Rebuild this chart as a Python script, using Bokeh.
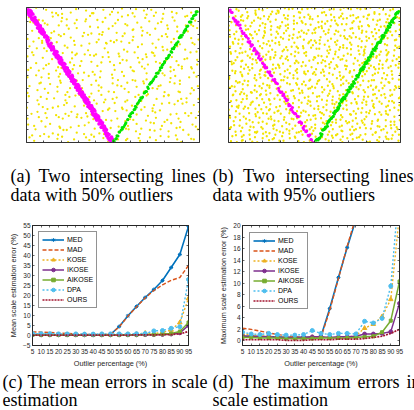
from bokeh.plotting import figure
from bokeh.models import Range1d, LinearAxis, FixedTicker, ColumnDataSource
from bokeh.layouts import column, row
from bokeh.embed import file_html
from bokeh.resources import INLINE
from bokeh.core.properties import value

# ---------------- data: error curves (c) and (d) ----------------
PCT = [5, 10, 15, 20, 25, 30, 35, 40, 45, 50, 55, 60, 65, 70, 75, 80, 85, 90, 95]
METHODS = ["MED", "MAD", "KOSE", "IKOSE", "AIKOSE", "DPA", "OURS"]

MEAN_MED = [0.6, 0.5, 0.5, 0.4, 0.4, 0.3, 0.3, 0.3, 0.4, 0.5, 4.5, 9.8, 14.5, 19.0, 23.0, 27.5, 34.0, 40.5, 54.5]
MEAN_MAD = [1.8, 1.7, 1.5, 1.2, 1.0, 0.8, 0.6, 0.5, 0.5, 0.5, 4.3, 9.6, 14.3, 18.8, 22.5, 25.3, 27.6, 29.0, 35.0]
MEAN_KOSE = [0.5, 0.5, 0.5, 0.4, 0.4, 0.4, 0.4, 0.4, 0.4, 0.4, 0.4, 0.5, 0.6, 1.2, 1.0, 1.5, 2.8, 6.5, 18.5]
MEAN_IKOSE = [0.3, 0.3, 0.3, 0.3, 0.3, 0.3, 0.3, 0.3, 0.3, 0.3, 0.3, 0.3, 0.3, 0.4, 0.4, 0.5, 0.7, 1.3, 5.0]
MEAN_AIKOSE = [0.4, 0.4, 0.4, 0.4, 0.4, 0.4, 0.4, 0.4, 0.4, 0.4, 0.4, 0.4, 0.4, 0.5, 0.5, 0.7, 1.0, 2.0, 6.5]
MEAN_DPA = [1.0, 0.9, 0.9, 0.8, 0.8, 0.8, 0.7, 0.7, 0.8, 0.8, 0.8, 0.8, 0.9, 1.0, 2.3, 2.5, 3.6, 4.4, 28.0]
MEAN_OURS = [0.2, 0.2, 0.2, 0.2, 0.2, 0.2, 0.2, 0.2, 0.2, 0.2, 0.2, 0.2, 0.3, 0.3, 0.3, 0.4, 0.5, 0.8, 2.0]

MAX_MED = [0.8, 0.8, 0.8, 0.7, 0.7, 0.6, 0.6, 0.6, 0.6, 0.8, 5.6, 11.0, 16.2, 21.0, 26.0, 31.0, 37.0, 44.0, 58.0]
MAX_MAD = [2.2, 2.0, 1.7, 1.4, 1.1, 0.9, 0.7, 0.6, 0.6, 0.6, 5.3, 10.8, 16.4, 21.5, 25.0, 27.0, 29.0, 31.0, 36.0]
MAX_KOSE = [1.2, 1.0, 0.9, 0.8, 0.7, 0.7, 0.6, 0.6, 0.6, 0.6, 0.6, 0.6, 0.6, 0.9, 2.2, 2.9, 4.2, 7.2, 22.0]
MAX_IKOSE = [0.8, 0.8, 0.7, 0.7, 0.6, 0.6, 0.6, 0.6, 0.7, 0.7, 0.6, 0.7, 0.7, 0.8, 1.2, 1.2, 1.3, 1.6, 6.5]
MAX_AIKOSE = [0.6, 0.6, 0.5, 0.5, 0.5, 0.4, 0.4, 0.4, 0.4, 0.5, 0.5, 0.5, 0.5, 0.6, 0.7, 0.8, 1.5, 3.5, 10.3]
MAX_DPA = [1.5, 1.2, 1.1, 1.3, 1.1, 1.0, 1.0, 1.1, 1.8, 1.3, 1.1, 1.3, 1.3, 1.2, 3.4, 3.1, 3.9, 9.5, 27.0]
MAX_OURS = [0.2, 0.2, 0.2, 0.2, 0.2, 0.1, 0.1, 0.1, 0.2, 0.2, 0.2, 0.3, 0.3, 0.3, 0.4, 0.6, 0.8, 1.3, 2.0]

MEAN_TICKS = [-5, 0, 5, 10, 15, 20, 25, 30, 35, 40, 45, 50, 55]
MAX_TICKS = [0, 2, 4, 6, 8, 10, 12, 14, 16, 18, 20]
SCAT_TICKS = [10, 20, 30, 40, 50, 60, 70, 80, 90]

# ---------------- data: two intersecting lines (a) and (b) ----------------
# outliers: one point per grid cell, digit pair = position inside the cell
OUT_A_GRID = (26, 20)
OUT_A = (
    "47120938 65382014 97431856 20749315 86025743 19386420 75148039 62937158"
    "08546271 93620485 17394602 58271936 40583179 26148357 93016284 75392061"
    "61839024 57206918 34785102 96431587 21068745 39572618 04937265 81540392"
    "29467013 85103946 72658319 40827561 93715046 28364907 51289634 07615283"
    "73950186 42917365 08236491 57694028 31846572 90153748 26470915 38621704"
    "15824739 60471283 94568012 37210954 68397124 05841367 79236580 14903672"
    "86203514 79348065 21697430 85046217 43971856 62185093 30758421 97642318"
    "52679083 14592706 80731649 26358701 97514238 41069572 68923150 03487965"
    "38014657 27865931 46019872 63942015 80273496 15790284 42651739 89136047"
    "94367120 58140379 63285914 07619832 25490761 84327165 17094583 56208439"
    "20591846 36974201 75430628 91865073 14628359 69051742 83517026 40792381"
    "67142390 83025617 19876354 42093786 58731024 23465897 06182947 71359640"
    "41786205 97251384 30648917 65104729 82396051 47910638 59823716 13067482"
    "85930472 14603859 62719043 38527196 07451238 90286473 24695807 76148329"
    "03268951 70489236 85136720 49762813 61937402 35814096 78340251 92576184"
    "59713628 26840917 43952086 17305649 96824130 62479581 01568372 38914765"
    "76425083 51397264 08614395 84231976 30579814 17046382 95281047 64730259"
)
OUT_B_GRID = (38, 27)
OUT_B = (
    "52809314 76213058 94760823 13587942 60934175 28461309 75102846 39657021 84219736 07538264 91346580"
    "19674208 35820947 61093582 47216095 83740621 95378014 26854930 71092465 38517209 64803157 20976431"
    "86431750 02967318 47582106 93128574 16093847 50742698 81365024 43978150 69204783 15827946 73590412"
    "30158927 64795103 28314769 05679231 72846510 39125487 64308951 87461302 25973618 90341527 48629075"
    "75926043 18430672 93057481 61842350 47315896 02684731 19573048 56820974 73146805 32698410 86051739"
    "41083675 87256194 05621937 38974026 94168203 76530912 53019786 20645139 08371562 67584023 19307264"
    "69547281 23618509 74893026 50326718 28501947 13829065 97462318 04183759 45920687 81235974 52748016"
    "07312846 96041735 31276854 89630152 65739480 47210396 20854173 78316942 12689405 56470319 94163528"
    "84965102 42783961 68510293 27015436 03486291 81953674 46731590 39528016 90742138 23096781 60832457"
    "23670819 70154328 12947630 76841095 59230874 65097231 09162483 82675403 37419856 98152604 41576093"
    "96128437 58362014 80436179 43598261 17624053 32781409 78520364 14093827 61830572 04763198 85290341"
    "50739264 14987630 27651048 95023784 86941327 09463158 34197806 67254913 28056341 79314052 16843709"
    "38041597 83526047 64289315 10764829 42058316 71529036 85013947 50968274 93715208 46270839 02597618"
    "71853026 29604185 95130762 68491203 30785942 26840173 12679458 97431026 05829467 61548203 79360451"
    "15260948 67149302 40837519 84326017 75160398 53902647 69438205 23165790 48092316 87613520 34729186"
    "62497813 90835271 18562043 37059684 08917235 94175360 40526871 76910348 81653092 25047138 58102947"
    "07834561 45391806 73920587 52618430 64293107 17068425 92784613 38257091 59014268 64391725 21856034"
    "89156230 21768459 56048371 90472516 41385269 82634910 07351829 65812403 14936750 03782619 97425308"
    "46302718 74053126 82917604 26830945 97502843 35816927 58193046 09467352 72581049 41926830 63091472"
    "24719085 36817492 09356128 73184650 13649528 68021573 21649738 87534160 36248971 92850364 05738219"
    "93581642 80426315 47183906 15905237 52871406 06397142 84027561 42396875 60197423 18635907 76214580"
    "58064379 12975680 61827453 49371862 28016795 93458016 36780152 71043298 05829136 57092413 42897065"
    "01726954 65308217 93546081 84052736 76539120 41762389 10937654 59618302 48361750 26473918 89103526"
    "75493806 48162739 20391574 36728915 09284653 28905147 67249310 13870645 93024587 80316254 14562873"
)
# inliers: digit pair = (position along the line inside its slot, vertical residual)
MAG_A_LINE = (0.0, 100.0, 50.0, 0.0)
MAG_A_RES = 2.4
MAG_A = (
    "47192063 85216094 30785142 69413870 21596384 74028619 53871206 98345017"
    "16729483 60254917 83016725 49532806 27184395 05963718 64820539 31476082"
    "92537164 18605293 75341806 40928571 63174028 89250346 12869057 57403129"
    "36981245 04713658 81246930 25069781 70392415 48517602 19638274 63204958"
    "93758106 27461389 50832674 84105923 36297014 71580362 05419837 62843591"
    "28036147 91574208 43692015 76180432 14930768 59327841 80465129 32798501"
    "67214083 05831976 49102657 96543820 21378945 74069218 38650712 61987034"
    "15432096 87205143 42769358 09316827"
)
GRN_A_LINE = (50.0, 0.0, 99.0, 98.0)
GRN_A_RES = 1.0
GRN_A = (
    "58139260 27406815 93872041 61520394 04697128 75318462 39024756 86251903"
    "12784635 40693178 97360524 25847019 63018247 81462593 06975381 54329670"
    "29813456 71046289 48590132 92657104 17238965 60475328 35901842"
)
MAG_B_LINE = (0.0, 99.0, 49.4, 0.0)
MAG_B_RES = 1.6
MAG_B = (
    "62041857 39518260 85723149 14690372 70832594 46159038 93276105 28504716"
    "51387920 07426893 84915632 36071284 69240517 12853906 57698340 40317682"
    "98162475 23589014 75406139 01834526 86273910 34950761 60189243 17625389"
    "92748053"
)
GRN_B_LINE = (50.8, 0.0, 99.2, 97.8)
GRN_B_RES = 1.5
GRN_B = (
    "19384652 73620148 40815937 86247315 52973086 27150694 64039281 08524763"
    "93617520 31480279 75296418 46802135 12735906 80591342 57643087 23109574"
    "69872501 04358619 38926740 91267853 65013428 20749316 47185029 83524671"
    "16370895 74908163 59231740 02647385 36815924 81096257 48572036 15734809"
    "97260314"
)

CAPTION_TOP = ["(a)", "Two", "intersecting", "lines", "data with 50% outliers",
               "(b)", "Two", "intersecting", "lines", "data with 95% outliers"]
CAPTION_BOT = ["(c)", "The", "mean", "errors", "in", "scale", "estimation",
               "(d)", "The", "maximum", "errors", "in", "scale estimation"]

# ---------------- layout / style ----------------
# (x of word start, y of text middle) in caption-panel pixels
CAP_TOP_POS = [(10, 25), (38, 25), (79, 25), (171, 25), (10, 44),
               (212, 25), (242.5, 25), (285, 25), (379, 25), (212, 44)]
CAP_BOT_POS = [(2, 11), (27, 11), (60, 11), (104.5, 11), (151.5, 11), (171, 11), (2, 29),
               (212, 11), (241, 11), (277, 11), (357, 11), (406, 11), (212, 29)]

STYLE = {
    "MED": dict(color="#0072BD", dash="solid", width=1.6, marker="asterisk", msize=4),
    "MAD": dict(color="#D95319", dash="4 2", width=1.4, marker=None, msize=0),
    "KOSE": dict(color="#EDB120", dash="2 2", width=1.4, marker="triangle", msize=4.5),
    "IKOSE": dict(color="#7E2F8E", dash="solid", width=1.5, marker="circle", msize=3.8),
    "AIKOSE": dict(color="#77AC30", dash="solid", width=1.5, marker="square", msize=3),
    "DPA": dict(color="#4DBEEE", dash="2 2", width=1.4, marker="circle", msize=4),
    "OURS": dict(color="#A2142F", dash="2 1", width=1.7, marker=None, msize=0),
}
AXC = "#262626"
SANS = "Liberation Sans"


def digits(s):
    return [int(ch) for ch in s if ch.isdigit()]


def cloud(s, grid):
    cols, rows = grid
    d = digits(s)
    n = min(len(d) // 2, cols * rows)
    xs, ys = [], []
    for k in range(n):
        c, r = k % cols, k // cols
        xs.append((c + (d[2 * k] + 0.5) / 10.0) * 100.0 / cols)
        ys.append((r + (d[2 * k + 1] + 0.5) / 10.0) * 100.0 / rows)
    return xs, ys


def band(s, line, res):
    x0, y0, x1, y1 = line
    d = digits(s)
    n = len(d) // 2
    xs, ys = [], []
    for k in range(n):
        t = (k + (d[2 * k] + 0.5) / 10.0) / n
        xs.append(x0 + (x1 - x0) * t)
        ys.append(y0 + (y1 - y0) * t + (d[2 * k + 1] - 4.5) / 4.5 * res)
    return xs, ys


def hide_labels(ax, ticks):
    ax.major_label_overrides = {t: "" for t in ticks}
    ax.major_label_text_font_size = "1px"
    ax.major_label_standoff = 0


def box_axes(p, xticks, yticks, color, tick_len, lw):
    top = LinearAxis()
    right = LinearAxis()
    p.add_layout(top, "above")
    p.add_layout(right, "right")
    xs = [p.below[0], top]
    ys = [p.left[0], right]
    for ax in xs:
        ax.ticker = FixedTicker(ticks=xticks)
    for ax in ys:
        ax.ticker = FixedTicker(ticks=yticks)
    for ax in xs + ys:
        ax.major_tick_in = tick_len
        ax.major_tick_out = 0
        ax.minor_tick_in = 0
        ax.minor_tick_out = 0
        ax.axis_line_color = color
        ax.major_tick_line_color = color
        ax.axis_line_width = lw
        ax.major_tick_line_width = lw
    hide_labels(top, xticks)
    hide_labels(right, yticks)
    return xs, ys


def scatter_panel(out, out_grid, mag, mag_line, mag_res, grn, grn_line, grn_res, left, right, msz):
    p = figure(width=207, height=150, x_range=Range1d(0, 100), y_range=Range1d(0, 100),
               output_backend="svg", toolbar_location=None,
               min_border_left=left, min_border_right=right, min_border_top=7, min_border_bottom=8)
    p.grid.visible = False
    xs, ys = box_axes(p, SCAT_TICKS, SCAT_TICKS, "#333333", 2, 0.9)
    hide_labels(xs[0], SCAT_TICKS)
    hide_labels(ys[0], SCAT_TICKS)
    p.outline_line_color = "#333333"
    ox, oy = cloud(out, out_grid)
    p.scatter(ox, oy, size=2.3, color="#F2E400", line_width=0)
    mx, my = band(mag, mag_line, mag_res)
    p.scatter(mx, my, size=msz, color="#FF00FF", line_width=0)
    gx, gy = band(grn, grn_line, grn_res)
    p.scatter(gx, gy, size=3.0, color="#00E600", line_width=0)
    return p


def error_panel(series, ylo, yhi, yticks, ylabel, left, right, lmargin):
    p = figure(width=207, height=160, x_range=Range1d(5, 95), y_range=Range1d(ylo, yhi),
               output_backend="svg", toolbar_location=None,
               min_border_left=left, min_border_right=right, min_border_top=15, min_border_bottom=23)
    p.grid.visible = False
    p.outline_line_color = AXC
    xs, ys = box_axes(p, PCT, yticks, AXC, 2, 0.7)
    for ax in (xs[0], ys[0]):
        ax.major_label_text_font = SANS
        ax.major_label_text_font_size = "6.5px"
        ax.major_label_text_color = AXC
        ax.axis_label_text_font = SANS
        ax.axis_label_text_font_size = "7.3px"
        ax.axis_label_text_font_style = "normal"
        ax.axis_label_text_color = AXC
    xs[0].major_label_standoff = 3
    xs[0].axis_label_standoff = 2
    xs[0].axis_label = "Outlier percentage (%)"
    ys[0].major_label_standoff = 2
    ys[0].axis_label_standoff = 2
    ys[0].axis_label = ylabel
    for name, vals in zip(METHODS, series):
        st = STYLE[name]
        p.line(PCT, vals, line_color=st["color"], line_width=st["width"], line_dash=st["dash"],
               legend_label=name)
        if st["marker"]:
            p.scatter(PCT, vals, marker=st["marker"], size=st["msize"], fill_color=st["color"],
                      line_color=st["color"], line_width=1, legend_label=name)
    lg = p.legend[0]
    lg.location = "top_left"
    lg.margin = lmargin
    lg.padding = 3
    lg.spacing = 1
    lg.label_text_font = SANS
    lg.label_text_font_size = "7px"
    lg.label_text_color = "black"
    lg.label_height = 9
    lg.glyph_height = 9
    lg.glyph_width = 22
    lg.label_standoff = 3
    lg.border_line_color = AXC
    lg.border_line_width = 0.6
    lg.background_fill_alpha = 1
    return p


def caption_panel(h, words, pos):
    p = figure(width=414, height=h, x_range=Range1d(0, 414), y_range=Range1d(h, 0),
               x_axis_type=None, y_axis_type=None, output_backend="svg",
               toolbar_location=None, min_border=0)
    p.outline_line_color = None
    src = ColumnDataSource(dict(x=[q[0] for q in pos], y=[q[1] for q in pos], t=words))
    p.text(x="x", y="y", text="t", source=src, text_font=value("Liberation Serif"),
           text_font_size="18px", text_baseline="middle", text_align="left",
           text_color="black")
    return p


pa = scatter_panel(OUT_A, OUT_A_GRID, MAG_A, MAG_A_LINE, MAG_A_RES, GRN_A, GRN_A_LINE, GRN_A_RES, 26, 8, 3.6)
pb = scatter_panel(OUT_B, OUT_B_GRID, MAG_B, MAG_B_LINE, MAG_B_RES, GRN_B, GRN_B_LINE, GRN_B_RES, 21, 14, 3.0)
cap1 = caption_panel(60, CAPTION_TOP, CAP_TOP_POS)
pc = error_panel([MEAN_MED, MEAN_MAD, MEAN_KOSE, MEAN_IKOSE, MEAN_AIKOSE, MEAN_DPA, MEAN_OURS],
                 -5, 55, MEAN_TICKS, "Mean scale estimation error (%)", 32, 19, 6)
pd = error_panel([MAX_MED, MAX_MAD, MAX_KOSE, MAX_IKOSE, MAX_AIKOSE, MAX_DPA, MAX_OURS],
                 -0.8, 20, MAX_TICKS, "Maximum scale estimation error (%)", 35, 15, 7)
cap2 = caption_panel(40, CAPTION_BOT, CAP_BOT_POS)

layout = column(row(pa, pb), cap1, row(pc, pd), cap2)
open("out.html", "w").write(file_html(layout, INLINE))
